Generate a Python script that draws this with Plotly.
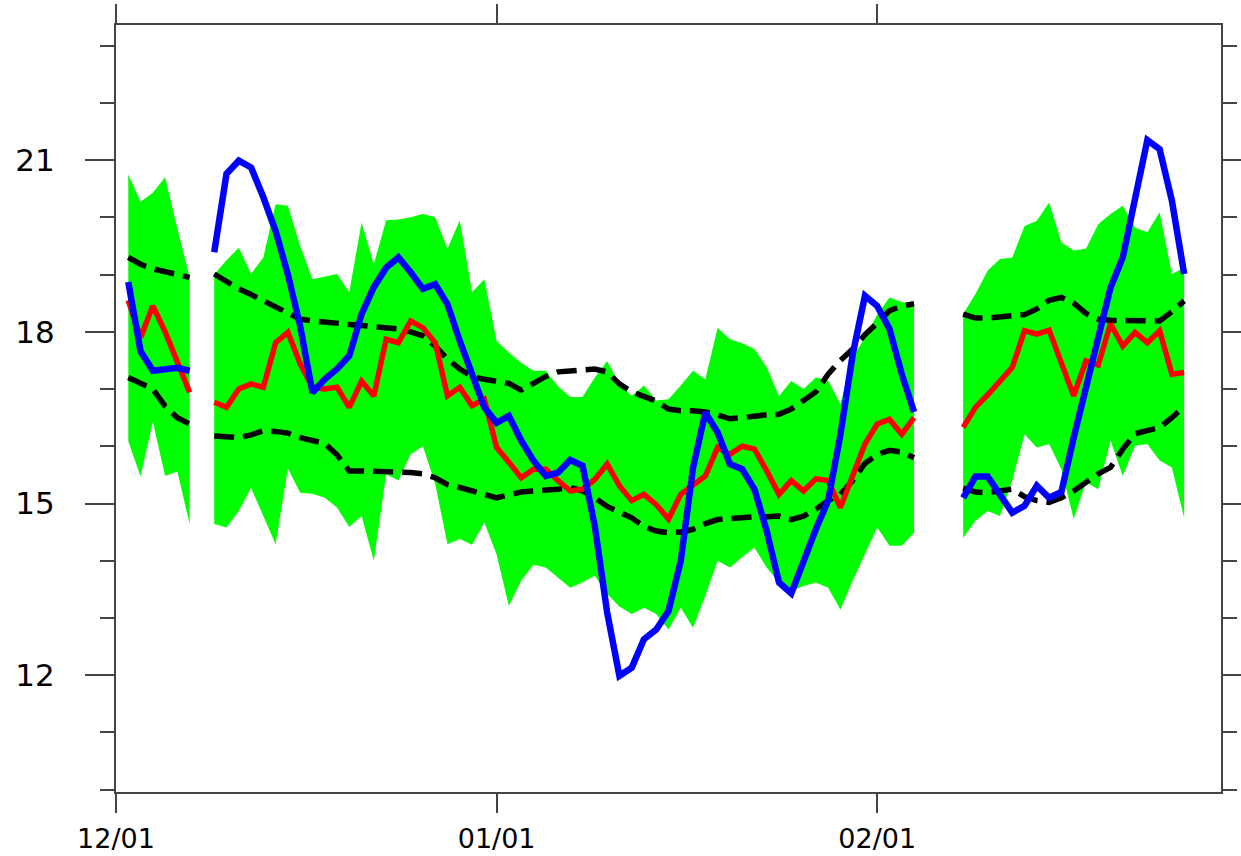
import pandas as pd
import plotly.graph_objects as go

N = None
dates = pd.date_range("2022-12-01", periods=90, freq="D")

# green spread band (upper / lower)
band_hi = ([N, 20.75, 20.27, 20.43, 20.70, 19.80, 18.95, N,
            19.00, 19.25, 19.47, 19.01, 19.30, 20.23, 20.20, 19.50, 18.92, 18.97,
            19.01, 18.69, 19.91, 19.18, 19.95, 19.96, 20.00, 20.06, 20.00, 19.45,
            19.95, 18.69, 18.92, 17.84, 17.64, 17.46, 17.32, 17.32, 17.05, 16.86,
            16.86, 17.20, 17.49, 17.09, 16.88, 17.06, 16.80, 16.82, 17.06, 17.32,
            17.17, 18.07, 17.87, 17.80, 17.70, 17.38, 16.88, 17.14, 17.00, 17.20,
            17.15, 16.74, 17.55, 17.90, 18.30, 18.60, 18.52, 18.48,
            N, N, N,
            18.31, 18.66, 19.07, 19.27, 19.30, 19.85, 19.94, 20.26, 19.56, 19.42,
            19.45, 19.88, 20.06, 20.20, 19.82, 19.74, 20.09, 19.01, 19.12,
            N, N])
band_lo = ([N, 16.09, 15.47, 16.43, 15.48, 15.56, 14.64, N,
            14.64, 14.58, 14.87, 15.27, 14.78, 14.29, 15.61, 15.19, 15.17, 15.10,
            14.93, 14.59, 14.78, 14.00, 15.51, 15.40, 15.86, 16.00, 15.34, 14.29,
            14.38, 14.28, 14.67, 14.11, 13.21, 13.65, 13.93, 13.88, 13.70, 13.53,
            13.62, 13.74, 13.42, 13.20, 13.07, 13.18, 13.07, 12.80, 13.18, 12.83,
            13.39, 14.00, 13.88, 14.06, 14.23, 13.88, 13.62, 13.47, 13.56, 13.62,
            13.53, 13.15, 13.65, 14.12, 14.58, 14.26, 14.26, 14.49,
            N, N, N,
            14.40, 14.70, 14.87, 14.78, 15.40, 16.21, 15.98, 16.04, 15.60, 14.73,
            15.37, 15.25, 16.10, 15.48, 16.01, 16.04, 15.75, 15.63, 14.75,
            N, N])

# red line
red = ([N, 18.55, 17.90, 18.45, 18.00, 17.47, 16.94, N,
        16.77, 16.68, 17.00, 17.09, 17.03, 17.81, 17.99, 17.44, 17.03, 17.00,
        17.03, 16.68, 17.14, 16.88, 17.87, 17.81, 18.19, 18.07, 17.81, 16.88,
        17.03, 16.71, 16.82, 15.98, 15.72, 15.45, 15.60, 15.60, 15.40, 15.22,
        15.25, 15.42, 15.69, 15.31, 15.05, 15.16, 14.98, 14.73, 15.16, 15.31,
        15.48, 15.98, 15.86, 16.00, 15.95, 15.57, 15.16, 15.40, 15.22, 15.43,
        15.40, 14.93, 15.50, 16.04, 16.39, 16.47, 16.21, 16.50,
        N, N, N,
        16.33, 16.68, 16.90, 17.14, 17.38, 18.02, 17.96, 18.03, 17.45, 16.88,
        17.49, 17.42, 18.14, 17.75, 17.99, 17.81, 18.02, 17.26, 17.29,
        N, N])

# blue line
blue = ([N, 18.87, 17.66, 17.32, 17.34, 17.37, 17.32, N,
         19.39, 20.76, 20.99, 20.87, 20.35, 19.76, 19.00, 18.10, 16.94, 17.17,
         17.35, 17.58, 18.31, 18.78, 19.12, 19.30, 19.04, 18.75, 18.83, 18.48,
         17.84, 17.26, 16.68, 16.41, 16.53, 16.10, 15.75, 15.48, 15.54, 15.76,
         15.66, 14.60, 13.10, 11.99, 12.13, 12.63, 12.80, 13.12, 14.00, 15.63,
         16.59, 16.24, 15.69, 15.60, 15.25, 14.52, 13.62, 13.43, 14.00, 14.55,
         15.05, 16.20, 17.60, 18.63, 18.45, 18.05, 17.26, 16.60,
         N, N, N,
         15.10, 15.47, 15.47, 15.16, 14.84, 14.96, 15.31, 15.10, 15.20, 16.15,
         17.03, 17.93, 18.77, 19.30, 20.32, 21.35, 21.19, 20.29, 19.01,
         N, N])

# black dashed lines (upper / lower)
dash_hi = ([N, 19.30, 19.18, 19.10, 19.05, 19.00, 18.95, N,
            19.01, 18.88, 18.75, 18.65, 18.54, 18.42, 18.31, 18.22, 18.19, 18.17,
            18.16, 18.14, 18.12, 18.10, 18.08, 18.05, 18.00, 17.93, 17.75, 17.52,
            17.35, 17.22, 17.17, 17.14, 17.10, 16.98, 17.10, 17.22, 17.30, 17.32,
            17.35, 17.35, 17.30, 17.09, 16.95, 16.88, 16.79, 16.65, 16.62, 16.62,
            16.60, 16.55, 16.48, 16.50, 16.53, 16.55, 16.56, 16.65, 16.80, 16.95,
            17.26, 17.50, 17.70, 17.95, 18.15, 18.37, 18.45, 18.49,
            N, N, N,
            18.31, 18.24, 18.24, 18.26, 18.27, 18.30, 18.40, 18.55, 18.60, 18.50,
            18.32, 18.22, 18.20, 18.20, 18.19, 18.18, 18.19, 18.35, 18.54,
            N, N])
dash_lo = ([N, 17.20, 17.10, 17.00, 16.70, 16.50, 16.39, N,
            16.18, 16.17, 16.15, 16.20, 16.27, 16.26, 16.23, 16.15, 16.10, 16.05,
            15.85, 15.57, 15.57, 15.57, 15.56, 15.55, 15.54, 15.52, 15.45, 15.33,
            15.28, 15.22, 15.15, 15.10, 15.15, 15.20, 15.22, 15.23, 15.25, 15.28,
            15.22, 15.10, 14.95, 14.85, 14.75, 14.60, 14.52, 14.49, 14.50, 14.55,
            14.65, 14.72, 14.74, 14.75, 14.77, 14.77, 14.78, 14.72, 14.78, 14.90,
            15.05, 15.16, 15.40, 15.70, 15.86, 15.93, 15.90, 15.80,
            N, N, N,
            15.27, 15.20, 15.19, 15.23, 15.25, 15.12, 15.05, 15.02, 15.10, 15.22,
            15.37, 15.52, 15.63, 15.95, 16.22, 16.28, 16.33, 16.50, 16.70,
            N, N])

tick_dates = ["2022-12-01", "2023-01-01", "2023-02-01"]
tick_text = ["12/01", "01/01", "02/01"]

fig = go.Figure()

# band: one filled polygon per contiguous run of data
runs, cur = [], []
for i in range(len(dates)):
    if band_hi[i] is not None:
        cur.append(i)
    elif cur:
        runs.append(cur)
        cur = []
if cur:
    runs.append(cur)
for r in runs:
    xs = [dates[i] for i in r] + [dates[i] for i in reversed(r)]
    ys = [band_hi[i] for i in r] + [band_lo[i] for i in reversed(r)]
    fig.add_trace(go.Scatter(x=xs, y=ys, mode="lines", fill="toself",
                             fillcolor="#00ff00", line=dict(width=0),
                             hoverinfo="skip", showlegend=False))

for series in (dash_hi, dash_lo):
    fig.add_trace(go.Scatter(x=dates, y=series, mode="lines", connectgaps=False,
                             line=dict(color="black", width=5.5, dash="20px,9px"),
                             showlegend=False))
fig.add_trace(go.Scatter(x=dates, y=red, mode="lines", connectgaps=False,
                         line=dict(color="#ff0000", width=5.5), showlegend=False))
fig.add_trace(go.Scatter(x=dates, y=blue, mode="lines", connectgaps=False,
                         line=dict(color="#0000ff", width=6.5), showlegend=False))

axis_col = "#444444"
fig.update_layout(
    template="none",
    width=1241, height=856,
    margin=dict(l=116, r=20, t=25, b=64, pad=0),
    paper_bgcolor="white", plot_bgcolor="white",
    showlegend=False,
    xaxis=dict(
        type="date", range=["2022-12-01", "2023-03-01"],
        tickmode="array", tickvals=tick_dates, ticktext=tick_text,
        ticks="outside", ticklen=19, tickwidth=1.5, tickcolor=axis_col,
        showline=True, linecolor=axis_col, linewidth=2, mirror="allticks",
        showgrid=False, zeroline=False, automargin=False,
        tickfont=dict(family="DejaVu Sans", size=27, color="black"),
        ticklabelstandoff=3,
    ),
    yaxis=dict(
        range=[9.96, 23.36], tick0=0, dtick=3,
        ticks="outside", ticklen=29, tickwidth=1.5, tickcolor=axis_col,
        minor=dict(ticks="outside", ticklen=14, tickwidth=1.5,
                   tickcolor=axis_col, tick0=0, dtick=1),
        showline=True, linecolor=axis_col, linewidth=2, mirror="allticks",
        showgrid=False, zeroline=False, automargin=False,
        tickfont=dict(family="DejaVu Sans", size=31, color="black"),
        ticklabelstandoff=24,
    ),
)

fig.write_html("out.html")
